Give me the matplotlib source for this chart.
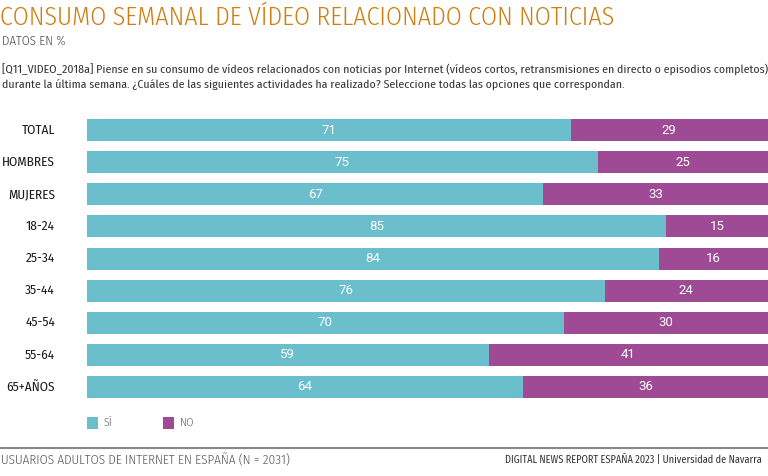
import matplotlib
matplotlib.use("Agg")
import matplotlib.pyplot as plt
from matplotlib.patches import Rectangle
from matplotlib.lines import Line2D
from matplotlib import font_manager

categories = ["TOTAL", "HOMBRES", "MUJERES", "18-24", "25-34", "35-44", "45-54", "55-64", "65+AÑOS"]
si_values = [71, 75, 67, 85, 84, 76, 70, 59, 64]
no_values = [29, 25, 33, 15, 16, 24, 30, 41, 36]
legend_labels = ["SÍ", "NO"]

TEAL = "#6bbfcc"
PURPLE = "#9e4a95"
ORANGE = "#cd7d12"
GREY = "#444444"

names = {f.name for f in font_manager.fontManager.ttflist}
fam = "DejaVu Sans"
for cand in ["Fira Sans Condensed", "Asap Condensed", "Barlow Semi Condensed"]:
    if cand in names:
        fam = cand
        break
plt.rcParams["font.family"] = [fam, "DejaVu Sans"]
numfam = ["Roboto", "DejaVu Sans"] if "Roboto" in names else [fam, "DejaVu Sans"]

W, H = 768, 476
fig = plt.figure(figsize=(W / 100, H / 100), dpi=100)

def fx(px):
    return px / W

def fy(py):
    return 1 - py / H

step = (387 - 130) / 8
top = 130 - step / 2
bottom = 387 + step / 2
ax = fig.add_axes([fx(87), fy(bottom), 1 - fx(87), (bottom - top) / H])
ypos = list(range(len(categories)))
bh = 22 / step
ax.barh(ypos, si_values, height=bh, color=TEAL, edgecolor="none")
ax.barh(ypos, no_values, left=si_values, height=bh, color=PURPLE, edgecolor="none")
for y, s, n in zip(ypos, si_values, no_values):
    ax.text(s / 2, y, str(s), ha="center", va="center", color="white", fontsize=9.5, family=numfam)
    ax.text(s + n / 2, y, str(n), ha="center", va="center", color="white", fontsize=9.5, family=numfam)
ax.set_xlim(0, 100)
ax.set_ylim(len(categories) - 0.5, -0.5)
ax.axis("off")
for y, c in zip(ypos, categories):
    ax.text(-32 / 6.81, y, c, ha="right", va="center", fontsize=9.5, color="#1a1a1a")

fig.text(fx(0), fy(18), "CONSUMO SEMANAL DE VÍDEO RELACIONADO CON NOTICIAS",
         ha="left", va="center", fontsize=18.6, color=ORANGE, weight=300)
fig.text(fx(2), fy(41), "DATOS EN %", ha="left", va="center", fontsize=9.3, color=GREY, weight=300)
fig.text(fx(2), fy(70),
         "[Q11_VIDEO_2018a] Piense en su consumo de vídeos relacionados con noticias por Internet (vídeos cortos, retransmisiones en directo o episodios completos)",
         ha="left", va="center", fontsize=8.5, color="#333333")
fig.text(fx(2), fy(84),
         "durante la última semana. ¿Cuáles de las siguientes actividades ha realizado? Seleccione todas las opciones que correspondan.",
         ha="left", va="center", fontsize=8.5, color="#333333")

for x0, col, lab in [(87, TEAL, legend_labels[0]), (163, PURPLE, legend_labels[1])]:
    fig.patches.append(Rectangle((fx(x0), fy(428.5)), fx(11), 11.5 / H, transform=fig.transFigure,
                                 facecolor=col, edgecolor="none"))
    fig.text(fx(x0 + 17), fy(423), lab, ha="left", va="center", fontsize=8.5, color="#666666", weight=300)

fig.add_artist(Line2D([0, 1], [fy(447.5), fy(447.5)], transform=fig.transFigure, color="#888888", lw=1.5))
fig.text(fx(1), fy(460), "USUARIOS ADULTOS DE INTERNET EN ESPAÑA (N = 2031)", ha="left", va="center",
         fontsize=9.45, color="#555555", weight=300)
fig.text(fx(762), fy(460), "DIGITAL NEWS REPORT ESPAÑA 2023 | Universidad de Navarra", ha="right", va="center",
         fontsize=7.4, color="#333333")

fig.savefig("out.png", dpi=100)
